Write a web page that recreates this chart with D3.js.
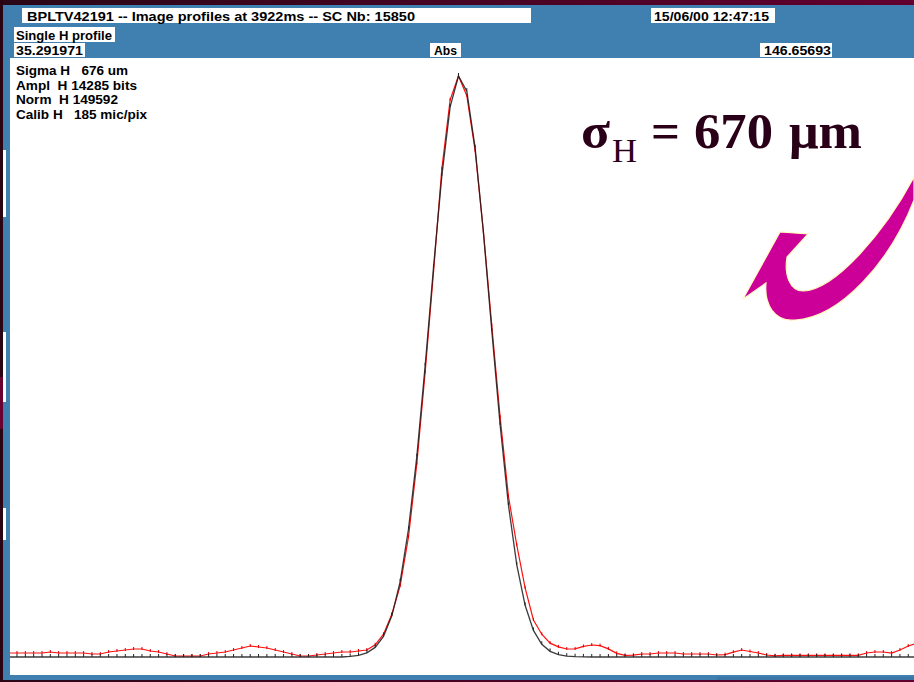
<!DOCTYPE html>
<html>
<head>
<meta charset="utf-8">
<script src="https://cdn.jsdelivr.net/npm/d3@7/dist/d3.min.js"></script>
<style>
html,body{margin:0;padding:0;background:#2a0515;}
svg{display:block;}
text{font-family:"Liberation Sans",Arial,sans-serif;}
</style>
</head>
<body>
<svg id="chart" width="914" height="682"></svg>
<script>
// ---- data ----
const titleText = "BPLTV42191 -- Image profiles at 3922ms -- SC Nb: 15850";
const dateText = "15/06/00 12:47:15";
const profileLabel = "Single H profile";
const axisLabels = ["35.291971", "Abs", "146.65693"];
const statLines = ["Sigma H   676 um", "Ampl  H 14285 bits", "Norm  H 149592", "Calib H   185 mic/pix"];
const channels = d3.range(110);
// measured profile (red), bits
const measured = [98,
  98,98,98,98,123,98,98,98,98,
  74,74,
  123,148,172,197,197,148,123,74,
  25,25,25,25,
  74,98,123,172,221,270,246,221,172,123,74,
  25,25,49,74,98,123,123,148,172,
  300,560,1050,
  1750,2950,4750,7000,9450,12000,13700,
  14285,
  13800,12450,10450,8150,5900,3950,2750,1700,910,560,340,250,197,
  200,260,295,280,200,90,40,45,74,74,98,98,98,
  74,74,74,74,49,60,120,172,135,98,49,30,
  40,40,40,40,40,40,40,40,40,40,
  98,123,123,98,172,270,340];
// gaussian fit (black), bits
const fitted = [0,
  0,0,0,0,0,0,0,0,0,0,0,0,0,0,0,0,0,0,0,0,
  0,0,0,0,0,0,0,0,0,0,0,0,0,0,0,0,0,0,0,0,
  15,40,102,236,506,1012,1855,3144,4926,7160,9570,11824,13524,14285,13913,12520,10424,8022,5706,3733,2265,1272,654,314,139,56,21,7,2,
  0,0,0,0,0,0,0,0,0,0,0,0,0,0,0,0,0,0,0,0,
  0,0,0,0,0,0,0,0,0,0,0,0,0,0,0,0,0,0,0,0];
const yDomain = [0, 14285];
const bigSigma = "σ", bigSub = "H", bigEq = "=", bigValue = "670", bigUnit = "μm";

// ---- drawing ----
const svg = d3.select("#chart");
const defs = svg.append("defs");
const grad = defs.append("linearGradient").attr("id","bg").attr("x1","0").attr("x2","1").attr("y1","0").attr("y2","0");
grad.append("stop").attr("offset","0").attr("stop-color","#2a0716");
grad.append("stop").attr("offset","1").attr("stop-color","#62002f");
svg.append("rect").attr("width",914).attr("height",682).attr("fill","url(#bg)");
svg.append("rect").attr("x",0).attr("y",0).attr("width",3).attr("height",682).attr("fill","#2a0412");
svg.append("rect").attr("x",0).attr("y",377).attr("width",3).attr("height",52).attr("fill","#6a0030");

// blue frame
svg.append("rect").attr("x",3).attr("y",5).attr("width",911).attr("height",675).attr("fill","#4080b0");
svg.append("rect").attr("x",717).attr("y",677).attr("width",197).attr("height",3).attr("fill","#3b76a6");
[[150,67],[332,70],[508,32]].forEach(([yy,h])=>{
  svg.append("rect").attr("x",3).attr("y",yy).attr("width",3).attr("height",h).attr("fill","#ffffff");
});

function label(x,yb,txt,len){
  const t = svg.append("text").attr("x",x).attr("y",yb).attr("font-size",13).attr("font-weight","bold")
    .attr("fill","#000").style("white-space","pre").text(txt);
  if(len){ t.attr("textLength",len).attr("lengthAdjust","spacingAndGlyphs"); }
  return t;
}
function box(x,y,w,h,txt,tx,len){
  svg.append("rect").attr("x",x).attr("y",y).attr("width",w).attr("height",h).attr("fill","#ffffff");
  label(tx,y+h-2.5,txt,len);
}
box(22,8,509,15,titleText,27,388);
box(651,8,124,15,dateText,654,115);
box(14,27,101,15,profileLabel,16,96);
box(14,43,71,14,axisLabels[0],16,67);
box(430,43,31,14,axisLabels[1],434,23);
box(760,43,72,14,axisLabels[2],764,67);

// plot area
const plot = {x:10, y:58, w:904, h:617};
svg.append("rect").attr("x",plot.x).attr("y",plot.y).attr("width",plot.w).attr("height",plot.h).attr("fill","#ffffff");
defs.append("clipPath").attr("id","clip").append("rect")
  .attr("x",plot.x).attr("y",plot.y).attr("width",plot.w).attr("height",plot.h);

const x = d3.scaleLinear().domain([0,109]).range([8.67, 916.6]);
const y = d3.scaleLinear().domain(yDomain).range([657, 76]);

const g = svg.append("g").attr("clip-path","url(#clip)");
const line = d3.line().x((d,i)=>x(channels[i])).y(d=>y(d));

g.append("path").datum(measured).attr("d",line).attr("fill","none")
  .attr("stroke","#ff1010").attr("stroke-width",1.2);
g.selectAll("line.rt").data(measured).join("line").attr("class","rt")
  .attr("x1",(d,i)=>x(channels[i])).attr("x2",(d,i)=>x(channels[i]))
  .attr("y1",d=>y(d)-2).attr("y2",d=>y(d)+1).attr("stroke","#e00000").attr("stroke-width",1);

g.append("path").datum(fitted).attr("d",line).attr("fill","none")
  .attr("stroke","#1a1a1a").attr("stroke-width",1.3).attr("stroke-opacity",0.85);
g.selectAll("line.bt").data(fitted).join("line").attr("class","bt")
  .attr("x1",(d,i)=>x(channels[i])).attr("x2",(d,i)=>x(channels[i]))
  .attr("y1",d=>y(d)-3).attr("y2",d=>y(d)).attr("stroke","#222").attr("stroke-width",1);

// stats text
const statLens = [112,121,102,131];
statLines.forEach((s,i)=>label(16,75+i*14.5,s,statLens[i]));

// big annotation
const serif = '"Liberation Serif","Times New Roman",serif';
function big(x,yb,size,txt,bold,len){
  const t = svg.append("text").attr("x",x).attr("y",yb).attr("font-size",size)
    .attr("font-weight",bold?"bold":"normal").style("font-family",serif).attr("fill","#2a0018").text(txt);
  if(len){ t.attr("textLength",len).attr("lengthAdjust","spacingAndGlyphs"); }
}
big(581,148,50,bigSigma,true,29);
big(612,162,33,bigSub,false,25);
big(651,148,50,bigEq,true,29);
big(694,148,50,bigValue,true,79);
big(789,148,50,bigUnit,true,73);

// curved arrow
svg.append("path")
  .attr("d","M914,177 C885,232 835,290 803,291 C790,291 784,275 787,257 L808,234 L780,232 L743,299 L766,283 C764,305 775,322 795,320 C840,318 890,262 914,200 Z")
  .attr("fill","#cc0099").attr("stroke","#fff8c0").attr("stroke-width",1.2);
</script>
</body>
</html>
